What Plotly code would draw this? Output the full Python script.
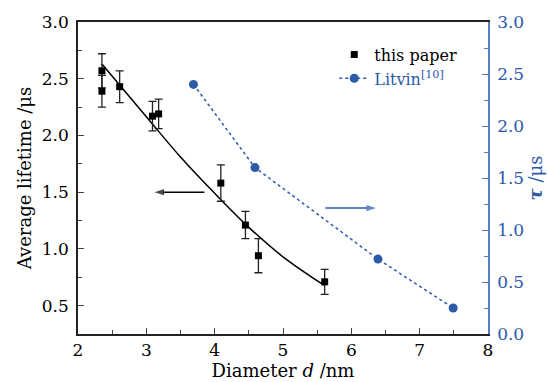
import plotly.graph_objects as go

# ---- data ----
paper_d = [2.35, 2.35, 2.61, 3.09, 3.18, 4.09, 4.45, 4.64, 5.61]
paper_tau = [2.57, 2.39, 2.43, 2.17, 2.19, 1.58, 1.21, 0.94, 0.71]
paper_err = [0.15, 0.14, 0.14, 0.13, 0.13, 0.16, 0.12, 0.15, 0.11]

fit_d = [2.35, 3.0, 3.5, 4.0, 4.5, 5.0, 5.6]
fit_tau = [2.63, 2.165, 1.81, 1.49, 1.19, 0.93, 0.68]

litvin_d = [3.69, 4.59, 6.39, 7.49]
litvin_tau = [2.40, 1.60, 0.72, 0.25]

x_ticks = [2, 3, 4, 5, 6, 7, 8]
left_ticks = [0.5, 1.0, 1.5, 2.0, 2.5, 3.0]
right_ticks = [0.0, 0.5, 1.0, 1.5, 2.0, 2.5, 3.0]

# arrows (tail -> head) in data coordinates of the left axis
left_arrow_d = [3.85, 3.12]
left_arrow_tau = [1.50, 1.50]
right_arrow_d = [5.62, 6.36]
right_arrow_tau = [1.36, 1.36]

BLUE = "#2a5aa8"
AXBLUE = "#5580c4"
FONT = "DejaVu Serif"

fig = go.Figure()

fig.add_trace(go.Scatter(
    x=fit_d, y=fit_tau, mode="lines", line=dict(color="black", width=1.5, shape="spline"),
    showlegend=False, hoverinfo="skip"))

fig.add_trace(go.Scatter(
    x=paper_d, y=paper_tau, mode="markers", name="this paper",
    marker=dict(symbol="square", size=7, color="black"),
    error_y=dict(type="data", array=paper_err, color="#222", thickness=1.3, width=4)))

fig.add_trace(go.Scatter(
    x=litvin_d, y=litvin_tau, mode="lines+markers", yaxis="y2",
    name=f"<span style='color:{BLUE}'>Litvin<sup>[10]</sup></span>",
    line=dict(color=BLUE, width=1.5, dash="dot"),
    marker=dict(symbol="circle", size=9, color=BLUE)))

for xs, ys, col in ((left_arrow_d, left_arrow_tau, "black"),
                    (right_arrow_d, right_arrow_tau, BLUE)):
    fig.add_trace(go.Scatter(
        x=xs, y=ys, mode="lines+markers", showlegend=False, hoverinfo="skip",
        line=dict(color=col, width=1.6),
        marker=dict(symbol="arrow", angleref="previous", size=[0, 10], color=col,
                    line=dict(width=0))))

fig.update_layout(
    width=547, height=382,
    margin=dict(l=78, r=59, t=22, b=48),
    paper_bgcolor="white", plot_bgcolor="white",
    font=dict(family=FONT, size=17, color="black"),
    showlegend=True,
    legend=dict(x=0.625, y=0.95, xanchor="left", yanchor="top",
                bgcolor="rgba(0,0,0,0)", font=dict(size=16, family=FONT),
                tracegroupgap=0),
    xaxis=dict(range=[2, 8], tickvals=x_ticks, ticks="inside", ticklen=6, tickwidth=1.3,
               showline=True, linecolor="#222", linewidth=1.5, mirror=True,
               showgrid=False, zeroline=False, automargin=False,
               minor=dict(dtick=0.5, ticks="inside", ticklen=4, tickwidth=1.2, showgrid=False),
               title=dict(text="Diameter <i>d</i> /nm", font=dict(size=18), standoff=4),
               tickfont=dict(size=17)),
    yaxis=dict(range=[0.25, 3.0], tickvals=left_ticks, tickformat=".1f", ticks="inside",
               ticklen=6, tickwidth=1.3, showline=True, linecolor="#222", linewidth=1.5,
               showgrid=False, zeroline=False, automargin=False,
               minor=dict(dtick=0.25, ticks="inside", ticklen=4, tickwidth=1.2, showgrid=False),
               title=dict(text="Average lifetime /μs", font=dict(size=18), standoff=6),
               tickfont=dict(size=17), ticklabelstandoff=4),
    yaxis2=dict(range=[0, 3.0], tickvals=right_ticks, tickformat=".1f", overlaying="y",
                side="right", ticks="inside", ticklen=6, tickwidth=1.3, tickcolor=AXBLUE,
                showline=True, linecolor=AXBLUE, linewidth=1.5, showgrid=False, zeroline=False,
                automargin=False,
                minor=dict(dtick=0.25, ticks="inside", ticklen=4, tickwidth=1.2,
                           tickcolor=AXBLUE, showgrid=False),
                title=dict(text="<b><i>τ</i></b> /μs", font=dict(size=18, color=BLUE), standoff=6),
                tickfont=dict(size=17, color=BLUE), ticklabelstandoff=4),
)

fig.write_html("out.html")
